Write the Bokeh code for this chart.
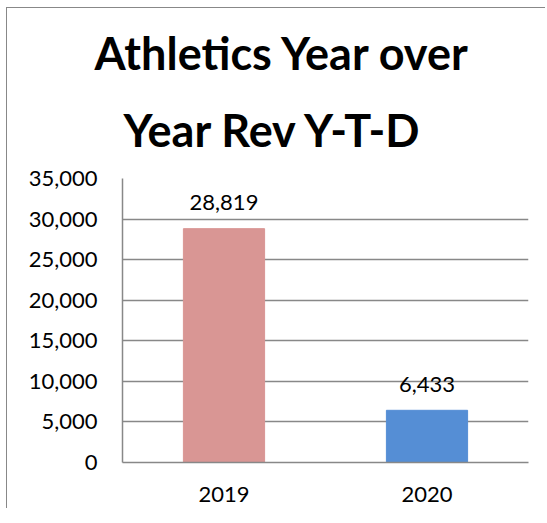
from bokeh.plotting import figure
from bokeh.models import Range1d, LabelSet, ColumnDataSource, NumeralTickFormatter, FixedTicker, Title
from bokeh.core.properties import value
from bokeh.embed import file_html
from bokeh.resources import INLINE

years = ["2019", "2020"]
revenue = [28819, 6433]
colors = ["#D99694", "#558ED5"]
labels = ["28,819", "6,433"]
title_lines = ["Athletics Year over", "Year Rev Y-T-D"]
y_ticks = [0, 5000, 10000, 15000, 20000, 25000, 30000, 35000]

FONT = "Lato"
PAD_TOP = 13

src = ColumnDataSource(dict(x=years, top=revenue, color=colors, label=labels))

p = figure(x_range=years, y_range=Range1d(0, 35000), width=539, height=514 - PAD_TOP,
           output_backend="svg", toolbar_location=None,
           min_border_left=115, min_border_right=18, min_border_top=170 - PAD_TOP,
           min_border_bottom=60)
p.styles = {"border-left": "1.5px solid #888888", "border-top": "1.5px solid #888888",
            "margin-left": "6px", "margin-top": "7px", "padding-top": f"{PAD_TOP}px"}

p.vbar(x="x", top="top", width=0.4, color="color", source=src)

p.add_layout(LabelSet(x="x", y="top", text="label", source=src, text_align="center",
                      text_baseline="middle", y_offset=26, text_font=value(FONT),
                      text_font_size="22px", text_color="#000000"))

# line nearest the plot is added first
t2 = Title(text=title_lines[1], align="left", offset=1, standoff=43, text_line_height=0.7,
           text_font=FONT, text_font_style="bold", text_font_size="45px", text_color="#000000")
t1 = Title(text=title_lines[0], align="left", offset=-28, standoff=0, text_line_height=0.7,
           text_font=FONT, text_font_style="bold", text_font_size="45px", text_color="#000000")
p.title = None
p.add_layout(t2, "above")
p.add_layout(t1, "above")

p.outline_line_color = None
p.xgrid.grid_line_color = None
p.ygrid.grid_line_color = "#888888"
p.ygrid.grid_line_width = 1.5
p.yaxis.ticker = FixedTicker(ticks=y_ticks)
p.yaxis.formatter = NumeralTickFormatter(format="0,0")
for ax in (p.xaxis, p.yaxis):
    ax.axis_line_color = "#888888"
    ax.axis_line_width = 1.5
    ax.major_tick_out = 0
    ax.major_tick_in = 0
    ax.minor_tick_out = 0
    ax.minor_tick_in = 0
    ax.major_label_text_font = FONT
    ax.major_label_text_font_size = "22px"
    ax.major_label_text_color = "#000000"
p.yaxis.major_label_standoff = 25
p.xaxis.major_label_standoff = 24
p.x_range.range_padding = 0

open("out.html", "w").write(file_html(p, INLINE))
